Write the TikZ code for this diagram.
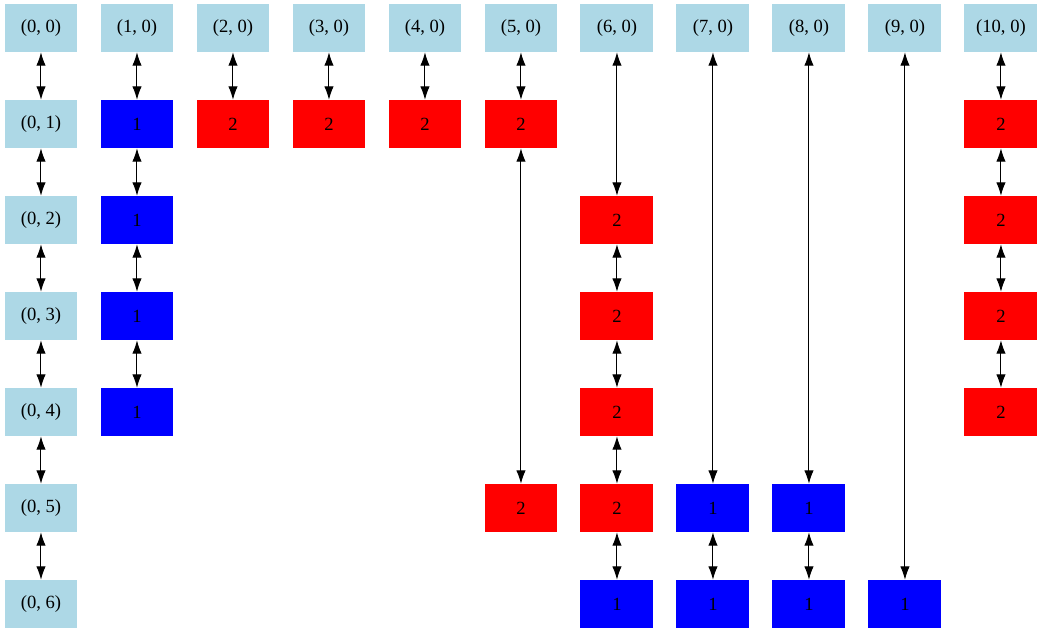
\documentclass[tikz,border=0pt]{standalone}
\usepackage{fontspec}
\setmainfont{Liberation Serif}
\usepackage{xcolor}
\usepackage{tikz}
\usetikzlibrary{arrows.meta}
\definecolor{lightblue}{RGB}{173,216,230}
\tikzstyle{cell} = [minimum width=0.76in, minimum height=0.5in, inner sep=0pt, font=\fontsize{14pt}{16pt}\selectfont]
\tikzstyle{head} = [cell, fill=lightblue]
\tikzstyle{one} = [cell, fill=blue]
\tikzstyle{two} = [cell, fill=red]
\tikzstyle{link} = [draw, line width=0.75pt, {Latex[length=10pt,width=7pt]}-{Latex[length=10pt,width=7pt]}]

\begin{document}
\begin{tikzpicture}[x=1in, y=-1in]
\useasboundingbox (0,0) rectangle (10.865,6.615);

\begin{scope}[shift={(0.427,0.292)}]
% header row
\node[head] at (0,0) (h0) {(0, 0)};
\node[head] at (1,0) (h1) {(1, 0)};
\node[head] at (2,0) (h2) {(2, 0)};
\node[head] at (3,0) (h3) {(3, 0)};
\node[head] at (4,0) (h4) {(4, 0)};
\node[head] at (5,0) (h5) {(5, 0)};
\node[head] at (6,0) (h6) {(6, 0)};
\node[head] at (7,0) (h7) {(7, 0)};
\node[head] at (8,0) (h8) {(8, 0)};
\node[head] at (9,0) (h9) {(9, 0)};
\node[head] at (10,0) (h10) {(10, 0)};

% first column
\node[head] at (0,1) (a1) {(0, 1)};
\node[head] at (0,2) (a2) {(0, 2)};
\node[head] at (0,3) (a3) {(0, 3)};
\node[head] at (0,4) (a4) {(0, 4)};
\node[head] at (0,5) (a5) {(0, 5)};
\node[head] at (0,6) (a6) {(0, 6)};
\path[link] (h0) to (a1);
\path[link] (a1) to (a2);
\path[link] (a2) to (a3);
\path[link] (a3) to (a4);
\path[link] (a4) to (a5);
\path[link] (a5) to (a6);

% column 1
\node[one] at (1,1) (b1) {1};
\node[one] at (1,2) (b2) {1};
\node[one] at (1,3) (b3) {1};
\node[one] at (1,4) (b4) {1};
\path[link] (h1) to (b1);
\path[link] (b1) to (b2);
\path[link] (b2) to (b3);
\path[link] (b3) to (b4);

% columns 2 to 4
\node[two] at (2,1) (c1) {2};
\node[two] at (3,1) (d1) {2};
\node[two] at (4,1) (e1) {2};
\path[link] (h2) to (c1);
\path[link] (h3) to (d1);
\path[link] (h4) to (e1);

% column 5
\node[two] at (5,1) (f1) {2};
\node[two] at (5,5) (f5) {2};
\path[link] (h5) to (f1);
\path[link] (f1) to (f5);

% column 6
\node[two] at (6,2) (g2) {2};
\node[two] at (6,3) (g3) {2};
\node[two] at (6,4) (g4) {2};
\node[two] at (6,5) (g5) {2};
\node[one] at (6,6) (g6) {1};
\path[link] (h6) to (g2);
\path[link] (g2) to (g3);
\path[link] (g3) to (g4);
\path[link] (g4) to (g5);
\path[link] (g5) to (g6);

% columns 7 and 8
\node[one] at (7,5) (k5) {1};
\node[one] at (7,6) (k6) {1};
\path[link] (h7) to (k5);
\path[link] (k5) to (k6);
\node[one] at (8,5) (m5) {1};
\node[one] at (8,6) (m6) {1};
\path[link] (h8) to (m5);
\path[link] (m5) to (m6);

% column 9
\node[one] at (9,6) (p6) {1};
\path[link] (h9) to (p6);

% column 10
\node[two] at (10,1) (q1) {2};
\node[two] at (10,2) (q2) {2};
\node[two] at (10,3) (q3) {2};
\node[two] at (10,4) (q4) {2};
\path[link] (h10) to (q1);
\path[link] (q1) to (q2);
\path[link] (q2) to (q3);
\path[link] (q3) to (q4);
\end{scope}
\end{tikzpicture}
\end{document}
